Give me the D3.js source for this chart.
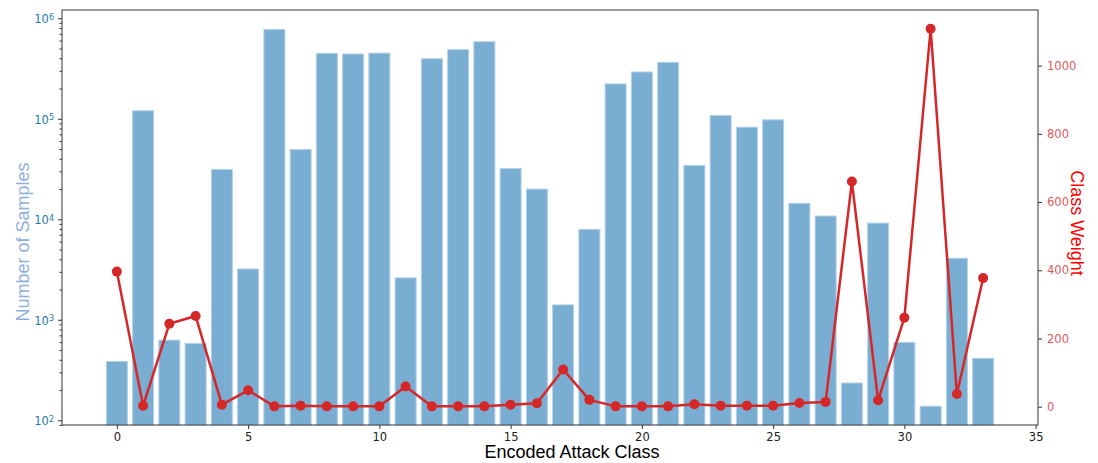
<!DOCTYPE html>
<html>
<head>
<meta charset="utf-8">
<script src="https://cdn.jsdelivr.net/npm/d3@7"></script>
<style>
  body { margin: 0; background: #fff; }
  svg text { font-family: "DejaVu Sans", sans-serif; }
</style>
</head>
<body>
<svg id="chart" width="1098" height="463"></svg>
<script>
// attack classes 0..33
var classes = d3.range(34);

// number of samples per class (log axis)
var sampleCounts = [385, 120000, 627, 582, 31300, 3200, 774000, 49400, 447000, 441000,
    450000, 2610, 396000, 487000, 584000, 32000, 19950, 1406, 7940, 222000,
    292000, 364000, 34300, 107700, 82400, 97500, 14400, 10770, 235, 9160,
    596, 138, 4090, 413];

// class weights (right axis)
var classWeights = [396, 3, 243, 266, 6, 48, 1, 3, 1, 1,
    1, 59, 1, 1, 1, 6, 10, 109, 20, 1,
    1, 1, 7, 3, 3, 3, 11, 14, 660, 19,
    261, 1108, 37, 377];

var xTicks = [0, 5, 10, 15, 20, 25, 30, 35];
var weightTicks = [0, 200, 400, 600, 800, 1000];
var logTicks = [2, 3, 4, 5, 6];

var margin = {left: 62, right: 60, top: 10, bottom: 38};
var width = 1098, height = 463;
var plotRight = width - margin.right;
var plotBottom = height - margin.bottom;

var svg = d3.select('#chart');

var xScale = d3.scaleLinear().domain([-2.09, 35.09]).range([margin.left, plotRight]);
var yScale = d3.scaleLog().domain([Math.pow(10, 1.953), Math.pow(10, 6.082)]).range([plotBottom, margin.top]);
var wScale = d3.scaleLinear().domain([-53.7, 1163]).range([plotBottom, margin.top]);

// bars
svg.append('g').selectAll('rect')
    .data(classes)
    .enter()
    .append('rect')
    .attr('x', function(d) { return xScale(d - 0.4); })
    .attr('width', xScale(0.8) - xScale(0))
    .attr('y', function(d) { return yScale(sampleCounts[d]); })
    .attr('height', function(d) { return plotBottom - yScale(sampleCounts[d]); })
    .attr('fill', '#79add2')
    .attr('stroke', '#b3d1e8')
    .attr('stroke-width', 1);

// weight line
var line = d3.line()
    .x(function(d) { return xScale(d); })
    .y(function(d) { return wScale(classWeights[d]); });

svg.append('path')
    .datum(classes)
    .attr('d', line)
    .attr('fill', 'none')
    .attr('stroke', '#d62728')
    .attr('stroke-width', 2.5)
    .attr('stroke-linejoin', 'round');

svg.append('g').selectAll('circle')
    .data(classes)
    .enter()
    .append('circle')
    .attr('cx', function(d) { return xScale(d); })
    .attr('cy', function(d) { return wScale(classWeights[d]); })
    .attr('r', 5)
    .attr('fill', '#d62728');

// frame
svg.append('rect')
    .attr('x', margin.left)
    .attr('y', margin.top)
    .attr('width', plotRight - margin.left)
    .attr('height', plotBottom - margin.top)
    .attr('fill', 'none')
    .attr('stroke', '#333')
    .attr('stroke-width', 1);

// x axis
var gx = svg.append('g')
    .attr('transform', 'translate(0,' + plotBottom + ')')
    .call(d3.axisBottom(xScale).tickValues(xTicks).tickSize(4).tickPadding(4).tickFormat(d3.format('d')));
gx.select('.domain').remove();
gx.selectAll('text').style('font-size', '11.5px').attr('fill', '#222');
gx.selectAll('line').attr('stroke', '#333');

// left log axis
var minorVals = [];
for (var e = 1; e <= 6; e++) {
    for (var m = 2; m <= 9; m++) {
        var v = m * Math.pow(10, e);
        if (v > yScale.domain()[0] && v < yScale.domain()[1]) minorVals.push(v);
    }
}
var gyMinor = svg.append('g')
    .attr('transform', 'translate(' + margin.left + ',0)')
    .call(d3.axisLeft(yScale).tickValues(minorVals).tickSize(2.5).tickFormat(''));
gyMinor.select('.domain').remove();
gyMinor.selectAll('line').attr('stroke', '#333');

var gy = svg.append('g')
    .attr('transform', 'translate(' + margin.left + ',0)')
    .call(d3.axisLeft(yScale).tickValues(logTicks.map(function(p) { return Math.pow(10, p); })).tickSize(4).tickPadding(4).tickFormat(''));
gy.select('.domain').remove();
gy.selectAll('line').attr('stroke', '#333');
gy.selectAll('.tick').each(function(d) {
    var t = d3.select(this).append('text')
        .attr('x', -8)
        .attr('dy', '0.4em')
        .attr('text-anchor', 'end')
        .attr('fill', '#1f77b4')
        .style('font-size', '11.5px');
    t.append('tspan').text('10');
    t.append('tspan').attr('dy', '-0.45em').style('font-size', '8px').text(Math.round(Math.log10(d)));
});

// right axis
var gw = svg.append('g')
    .attr('transform', 'translate(' + plotRight + ',0)')
    .call(d3.axisRight(wScale).tickValues(weightTicks).tickSize(4).tickPadding(5).tickFormat(d3.format('d')));
gw.select('.domain').remove();
gw.selectAll('line').attr('stroke', '#333');
gw.selectAll('text').style('font-size', '11.5px').attr('fill', '#e05a5b');

// axis labels
svg.append('text')
    .attr('x', 572)
    .attr('y', 458)
    .attr('text-anchor', 'middle')
    .style('font-family', '"Liberation Sans", Arial, sans-serif')
    .style('font-size', '18px')
    .attr('fill', '#000')
    .text('Encoded Attack Class');

svg.append('text')
    .attr('transform', 'translate(29,242) rotate(-90)')
    .attr('text-anchor', 'middle')
    .style('font-family', '"Liberation Sans", Arial, sans-serif')
    .style('font-size', '18px')
    .attr('fill', '#8fb0de')
    .text('Number of Samples');

svg.append('text')
    .attr('transform', 'translate(1071,223) rotate(90)')
    .attr('text-anchor', 'middle')
    .style('font-family', '"Liberation Sans", Arial, sans-serif')
    .style('font-size', '18px')
    .attr('fill', '#ff0000')
    .text('Class Weight');
</script>
</body>
</html>
